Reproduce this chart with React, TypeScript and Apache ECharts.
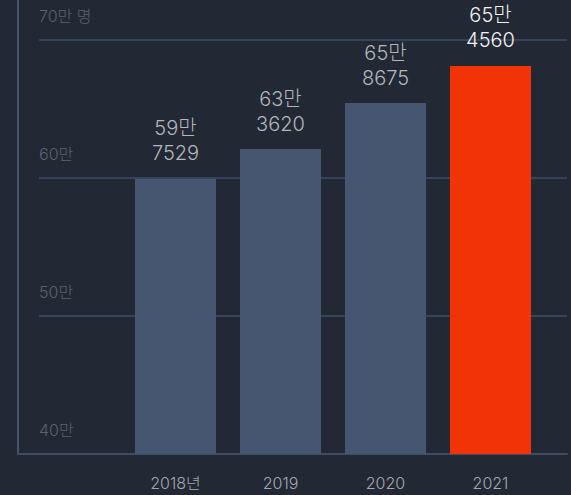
import React, { useEffect, useRef } from "react";
import * as echarts from "echarts";

const categories = ["2018년", "2019", "2020", "2021"];
// bar heights as drawn in the picture (unit: 만 명)
const barValues = [59.93, 62.1, 65.43, 68.12];
// value labels printed above the bars
const labelMan = ["59만", "63만", "65만", "65만"];
const labelRest = ["7529", "3620", "8675", "4560"];
const yTickValues = [40, 50, 60, 70];
const yTickLabels = ["40만", "50만", "60만", "70만 명"];
const highlightIndex = 3;

const FONT = "Inter, 'Noto Sans CJK KR', sans-serif";

export default function App() {
  const ref = useRef<HTMLDivElement>(null);
  useEffect(() => {
    document.body.style.margin = "0";
    const chart = echarts.init(ref.current!, null, { renderer: "svg" });
    const option: any = {
      animation: false,
      backgroundColor: "#222934",
      textStyle: { fontFamily: FONT },
      grid: [
        { left: 123, right: 28, top: 40, bottom: 41 },
        { left: 39, right: 4, top: 40, bottom: 41 },
        { left: 18, right: 4, top: 0, bottom: 41 },
      ],
      xAxis: [
        {
          type: "category",
          gridIndex: 0,
          data: categories,
          axisLine: { show: false },
          axisTick: { show: false },
          axisLabel: { color: "#a3a7ad", fontSize: 16, fontWeight: 300, margin: 21, fontFamily: FONT },
        },
        { type: "value", gridIndex: 1, min: 0, max: 1, show: false },
        {
          type: "value",
          gridIndex: 2,
          min: 0,
          max: 1,
          axisLine: { show: true, onZero: false, lineStyle: { color: "#3f4c62", width: 2 } },
          axisTick: { show: false },
          axisLabel: { show: false },
          splitLine: { show: false },
        },
      ],
      yAxis: [
        { type: "value", gridIndex: 0, min: 40, max: 70, show: false },
        {
          type: "value",
          gridIndex: 1,
          min: 40,
          max: 70,
          interval: 10,
          axisLine: { show: false },
          axisTick: { show: false },
          splitLine: { show: true, lineStyle: { color: "#37435a", width: 2 } },
          axisLabel: {
            inside: true,
            margin: 0,
            color: "#5d636c",
            fontSize: 16,
            fontWeight: 300,
            fontFamily: FONT,
            verticalAlign: "bottom",
            padding: [0, 0, 16, 0],
            formatter: (v: number) => yTickLabels[yTickValues.indexOf(v)] ?? "",
          },
        },
        {
          type: "value",
          gridIndex: 2,
          min: 0,
          max: 1,
          axisLine: { show: true, onZero: false, lineStyle: { color: "#45546d", width: 2 } },
          axisTick: { show: false },
          axisLabel: { show: false },
          splitLine: { show: false },
        },
      ],
      series: [
        {
          type: "bar",
          xAxisIndex: 0,
          yAxisIndex: 0,
          z: 5,
          barWidth: 81,
          data: barValues.map((v, i) => ({
            value: v,
            itemStyle: { color: i === highlightIndex ? "#f23207" : "#475670" },
            label: {
              color: i === highlightIndex ? "#f2f2f2" : "#b3b6bb",
            },
          })),
          label: {
            show: true,
            position: "top",
            distance: 13,
            fontSize: 20,
            fontWeight: 300,
            lineHeight: 25,
            fontFamily: FONT,
            formatter: (p: any) => `${labelMan[p.dataIndex]}\n${labelRest[p.dataIndex]}`,
          },
        },
      ],
    };
    chart.setOption(option);
    return () => chart.dispose();
  }, []);
  return <div ref={ref} style={{ width: 571, height: 495 }} />;
}
